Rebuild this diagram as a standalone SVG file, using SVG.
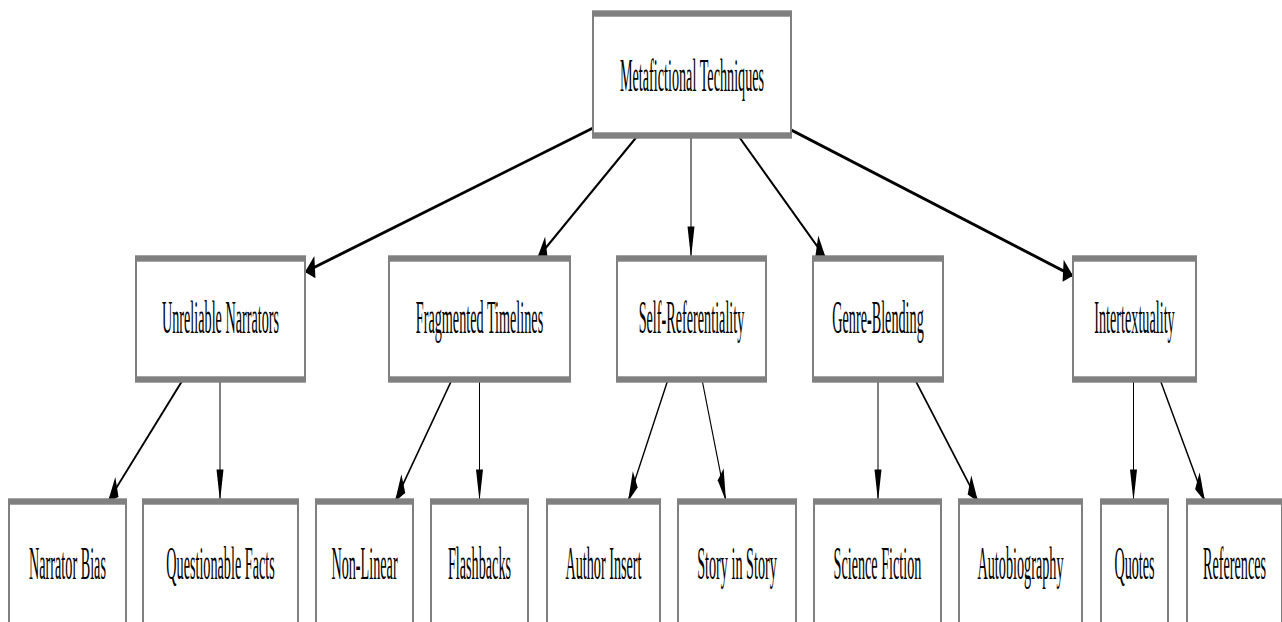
<svg xmlns="http://www.w3.org/2000/svg" width="1282" height="622" viewBox="0 0 1282 622">
<style>
.box{fill:#ffffff;stroke:#808080;stroke-width:2}
.lbl{font-family:"Liberation Serif","Times New Roman",serif;font-size:14.2px;fill:#000;text-anchor:middle}
.edge{stroke:#000;stroke-width:1;fill:none;marker-end:url(#ah)}
</style>
<defs>
<marker id="ah" markerUnits="userSpaceOnUse" markerWidth="10" markerHeight="7" refX="10" refY="3.5" orient="auto" overflow="visible">
<path d="M0,0 L10,3.5 L0,7 Z" fill="#000"/>
</marker>
</defs>
<rect width="1282" height="622" fill="#fff"/>
<g transform="scale(1,3.2)">
<g id="connectors">
<line class="edge" x1="593" y1="40" x2="305" y2="85"/>
<line class="edge" x1="638" y1="42.3" x2="537" y2="80.8"/>
<line class="edge" x1="691" y1="42.3" x2="691" y2="80.8"/>
<line class="edge" x1="738" y1="42.3" x2="826" y2="80.8"/>
<line class="edge" x1="791" y1="40.6" x2="1073" y2="86.2"/>
<line class="edge" x1="183" y1="118.6" x2="108" y2="156.7"/>
<line class="edge" x1="220" y1="118.6" x2="220" y2="156.7"/>
<line class="edge" x1="452" y1="118.6" x2="395" y2="156.7"/>
<line class="edge" x1="479.5" y1="118.6" x2="479.5" y2="156.7"/>
<line class="edge" x1="668" y1="118.6" x2="628" y2="156.7"/>
<line class="edge" x1="702" y1="118.6" x2="726" y2="156.7"/>
<line class="edge" x1="878" y1="118.6" x2="878" y2="156.7"/>
<line class="edge" x1="915" y1="118.6" x2="978" y2="156.7"/>
<line class="edge" x1="1133.5" y1="118.6" x2="1133.5" y2="156.7"/>
<line class="edge" x1="1160" y1="118.6" x2="1205" y2="156.7"/>
</g>
<g id="root"><rect class="box" x="593" y="4.22" width="198" height="38.12"/><text class="lbl" x="692" y="28.44">Metafictional Techniques</text></g>
<g id="unreliable"><rect class="box" x="136" y="80.78" width="169" height="37.81"/><text class="lbl" x="220.5" y="104.06">Unreliable Narrators</text></g>
<g id="fragmented"><rect class="box" x="389" y="80.78" width="181" height="37.81"/><text class="lbl" x="479.5" y="104.06">Fragmented Timelines</text></g>
<g id="selfref"><rect class="box" x="617" y="80.78" width="149" height="37.81"/><text class="lbl" x="691.5" y="104.06">Self-Referentiality</text></g>
<g id="genre"><rect class="box" x="813" y="80.78" width="130" height="37.81"/><text class="lbl" x="878" y="104.06">Genre-Blending</text></g>
<g id="intertext"><rect class="box" x="1073" y="80.78" width="123" height="37.81"/><text class="lbl" x="1134.5" y="104.06">Intertextuality</text></g>
<g id="bias"><rect class="box" x="9" y="156.72" width="117" height="38.9"/><text class="lbl" x="67.5" y="180.94">Narrator Bias</text></g>
<g id="facts"><rect class="box" x="143" y="156.72" width="155" height="38.9"/><text class="lbl" x="220.5" y="180.94">Questionable Facts</text></g>
<g id="nonlinear"><rect class="box" x="316" y="156.72" width="97" height="38.9"/><text class="lbl" x="364.5" y="180.94">Non-Linear</text></g>
<g id="flashbacks"><rect class="box" x="431" y="156.72" width="97" height="38.9"/><text class="lbl" x="479.5" y="180.94">Flashbacks</text></g>
<g id="author"><rect class="box" x="547" y="156.72" width="113" height="38.9"/><text class="lbl" x="603.5" y="180.94">Author Insert</text></g>
<g id="story"><rect class="box" x="678" y="156.72" width="118" height="38.9"/><text class="lbl" x="737" y="180.94">Story in Story</text></g>
<g id="scifi"><rect class="box" x="814" y="156.72" width="127" height="38.9"/><text class="lbl" x="877.5" y="180.94">Science Fiction</text></g>
<g id="autobio"><rect class="box" x="959" y="156.72" width="123" height="38.9"/><text class="lbl" x="1020.5" y="180.94">Autobiography</text></g>
<g id="quotes"><rect class="box" x="1101" y="156.72" width="67" height="38.9"/><text class="lbl" x="1134.5" y="180.94">Quotes</text></g>
<g id="refs"><rect class="box" x="1187" y="156.72" width="95" height="38.9"/><text class="lbl" x="1234.5" y="180.94">References</text></g>
</g>
</svg>
